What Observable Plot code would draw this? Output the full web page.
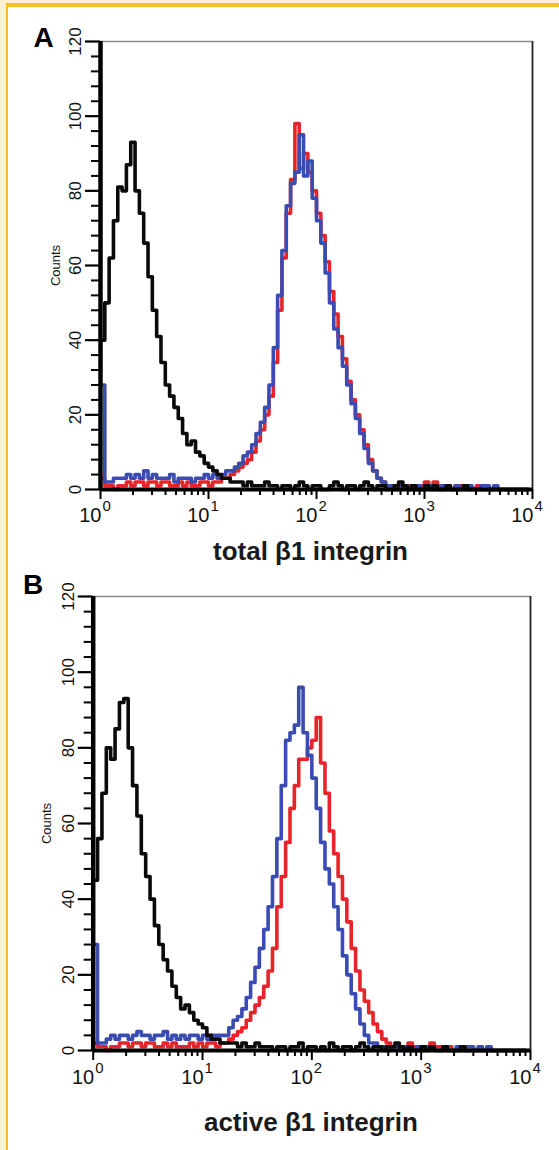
<!DOCTYPE html>
<html><head><meta charset="utf-8">
<script src="https://cdn.jsdelivr.net/npm/d3@7"></script>
<script src="https://cdn.jsdelivr.net/npm/@observablehq/plot@0.6"></script>
<style>
html,body{margin:0;padding:0;background:#fcefd6;}
#page{position:relative;width:559px;height:1150px;overflow:hidden;background:#fcefd6;}
#box{position:absolute;left:6px;top:3px;width:600px;height:1200px;background:#fff;border-left:2.5px solid #f4c01f;border-top:4px solid #f4c01f;box-sizing:border-box;}
#a,#b{position:absolute;left:0;}
#a{top:0px}#b{top:570px}
</style></head><body>
<div id="page"><div id="box"></div><div id="a"></div><div id="b"></div></div>
<script>
// channel step (log10 units per histogram bin); bins start at 10^0
const STEP = 0.04;

const blackA = [40,50,62,72,81,80,87,93,80,74, 66,57,48,41,34,28,25,22,19,15,
  12,13,10,9,7,6,5,4,3,3, 2,2,2,1,2,1,1,1,2,1, 1,0,1,1,0,1,2,1,0,1,
  1,0,0,1,2,1,0,1,1,0, 1,2,1,0,1,1,0,0,1,2, 1,0,1,0,0,1,0,1,0,0,
  1,0,0,0,1,0,0,0,0,0, 0,0,0,0,0,0,0,0,0,0];
const blueA = [28,2,2,3,3,3,4,3,4,3, 5,3,4,3,3,3,4,2,3,3, 3,2,3,3,4,3,4,3,4,5,
  5,6,7,9,10,12,15,18,22,28, 38,52,64,76,82,85,95,84,88,78,
  72,66,58,50,43,38,33,28,23,19, 15,11,7,5,3,2,1,1,0,1, 1,0,1,1,0,1,1,0,0,1,
  0,0,1,0,1,1,0,0,1,1, 0,1,0,0,0,0,0,0,0,0];
const redA = [3,1,1,0,1,1,2,1,2,2, 1,2,2,1,2,2,1,1,2,1, 2,1,1,2,2,1,2,2,3,3,
  4,5,6,7,8,10,13,16,20,25, 34,48,62,74,83,98,86,90,85,80,
  74,68,61,53,47,41,35,29,24,20, 16,12,8,5,3,2,1,1,1,0, 1,1,0,1,1,2,1,2,1,0,
  1,0,0,1,0,0,0,1,0,0, 0,0,0,0,0,0,0,0,0,0];

const blackB = [45,56,68,80,77,85,92,93,80,70, 62,52,46,40,33,28,24,21,17,14,
  11,12,10,8,7,6,4,3,3,2, 2,2,2,1,2,1,1,2,1,1, 1,0,1,1,0,1,1,2,0,1,
  1,0,1,0,2,1,0,1,1,0, 1,2,1,0,1,1,0,1,1,2, 1,0,1,0,0,1,0,1,0,0,
  1,0,0,0,1,0,0,0,0,0, 0,0,0,0,0,0,0,0,0,0];
const blueB = [28,2,2,3,4,3,4,4,3,4, 5,4,4,3,4,4,5,3,4,3, 4,3,4,4,3,4,3,4,4,4,
  4,6,8,9,11,14,18,22,27,32, 38,46,56,70,82,84,86,96,84,78,
  72,64,55,48,44,38,32,25,20,15, 11,7,4,2,2,1,1,0,1,1, 0,1,1,0,1,0,1,1,0,0,
  1,0,0,1,0,1,1,0,1,0, 1,0,0,0,0,0,0,0,0,0];
const redB = [2,1,1,0,1,1,2,2,1,2, 2,1,2,2,1,1,2,1,2,1, 1,1,2,1,2,1,2,2,1,2,
  2,3,4,5,6,8,10,12,14,17, 21,27,38,46,55,64,70,77,77,80,
  82,88,76,68,58,52,46,40,34,27, 21,16,13,10,7,5,3,2,1,1, 1,1,2,1,0,1,1,2,1,1,
  0,1,0,0,1,0,0,0,0,0, 0,0,0,0,0,0,0,0,0,0];

const yMajor = [0,20,40,60,80,100,120];
const yMinor = [4,8,12,16,24,28,32,36,44,48,52,56,64,68,72,76,84,88,92,96,104,108,112,116];
const xDecades = [1,10,100,1000,10000];
const xMinor = [2,3,4,5,6,7,8,9,20,30,40,50,60,70,80,90,200,300,400,500,600,700,800,900,2000,3000,4000,5000,6000,7000,8000,9000];

const colRed = "#e8242b", colBlue = "#3a4cb2", colBlack = "#0a0a0a";
const narrow = "'Liberation Sans Narrow','Arial Narrow','Liberation Sans',sans-serif";

function toRows(arr){ return arr.map((v,i)=>({x: Math.pow(10, i*STEP), y: v})); }

function panel(black, red, blue, o) {
  return Plot.plot({
    width: 559, height: o.height,
    marginLeft: o.ml, marginRight: o.mr, marginTop: o.mt, marginBottom: o.mb,
    x: {type: "log", domain: [1, 10000], label: null},
    y: {domain: [0, 120], label: null},
    style: {background: "transparent", fontFamily: "'Liberation Sans',Arial,sans-serif", color: "#000", overflow: "visible"},
    marks: [
      Plot.ruleY([120], {stroke: "#8a8a8a", strokeWidth: 1.5}),
      Plot.ruleX([10000], {stroke: "#222", strokeWidth: 1.8}),
      Plot.line(toRows(red), {x: "x", y: "y", curve: "step-after", stroke: colRed, strokeWidth: 3.6}),
      Plot.line(toRows(blue), {x: "x", y: "y", curve: "step-after", stroke: colBlue, strokeWidth: 3.6}),
      Plot.line(toRows(black), {x: "x", y: "y", curve: "step-after", stroke: colBlack, strokeWidth: 3.6}),
      Plot.axisY(yMajor, {tickSize: 15, tickFormat: () => "", label: null, strokeWidth: 2.2, stroke: "#000"}),
      Plot.axisY(yMinor, {tickSize: 9, tickFormat: () => "", label: null, strokeWidth: 2, stroke: "#000"}),
      Plot.axisX(xDecades, {tickSize: 10, tickFormat: () => "", label: null, strokeWidth: 2, stroke: "#000"}),
      Plot.axisX(xMinor, {tickSize: 6, tickFormat: () => "", label: null, strokeWidth: 2, stroke: "#000"}),
      Plot.ruleX([1], {stroke: "#000", strokeWidth: 4.5}),
      Plot.ruleY([0], {stroke: "#000", strokeWidth: 4}),
      Plot.text(yMajor, {y: d => d, text: d => String(d), frameAnchor: "left", dx: -25, rotate: -90,
        textAnchor: "middle", lineAnchor: "middle", fontSize: 17, fontFamily: narrow, fill: "#111"}),
      Plot.text(["Counts"], {frameAnchor: "left", dx: o.countsDx, rotate: -90, textAnchor: "middle",
        lineAnchor: "middle", fontSize: 13, fill: "#111"}),
      Plot.text(xDecades, {x: d => d, text: () => "10", frameAnchor: "bottom", textAnchor: "end",
        lineAnchor: "middle", dx: 1, dy: o.tickDy, fontSize: 20, fontFamily: narrow, fill: "#111"}),
      Plot.text(xDecades, {x: d => d, text: d => String(Math.round(Math.log10(d))), frameAnchor: "bottom",
        textAnchor: "start", lineAnchor: "middle", dx: 2, dy: o.tickDy - 9, fontSize: 15, fontFamily: narrow, fill: "#111"}),
      Plot.text([o.xlabel], {frameAnchor: "bottom", dx: o.labDx, dy: o.labDy, textAnchor: "middle",
        lineAnchor: "middle", fontSize: 26, fontWeight: "bold", fill: "#1a1a1a"}),
      Plot.text([o.letter], {frameAnchor: "top-left", dx: o.letDx, dy: o.letDy, textAnchor: "middle",
        lineAnchor: "middle", fontSize: 28, fontWeight: "bold", fill: "#000"})
    ]
  });
}

document.getElementById("a").appendChild(panel(blackA, redA, blueA, {
  height: 575, ml: 100, mr: 27, mt: 41, mb: 86, countsDx: -45, tickDy: 26,
  xlabel: "total β1 integrin", labDx: -6, labDy: 62, letter: "A", letDx: -57, letDy: -3
}));
document.getElementById("b").appendChild(panel(blackB, redB, blueB, {
  height: 580, ml: 92.7, mr: 29, mt: 26, mb: 100, countsDx: -46, tickDy: 27,
  xlabel: "active β1 integrin", labDx: -1, labDy: 72, letter: "B", letDx: -60, letDy: -11
}));
</script>
</body></html>
